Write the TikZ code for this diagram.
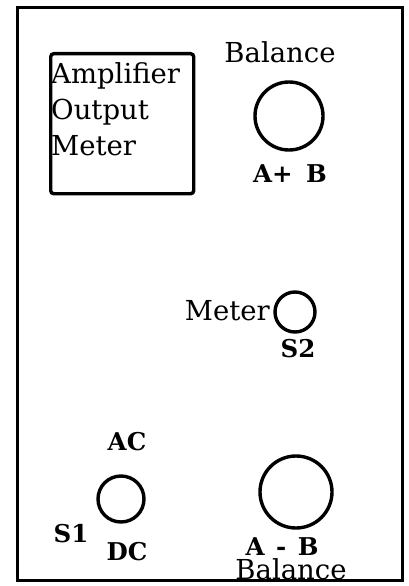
\documentclass[tikz,border=0pt]{standalone}
\usepackage{fontspec}
\setmainfont{DejaVu Serif}
\usetikzlibrary{positioning}
\tikzset{
  panel/.style={draw, line width=3pt},
  meterbox/.style={rectangle, draw, line width=3.4pt, rounded corners=3pt,
    minimum width=143pt, minimum height=140pt, anchor=north west, inner sep=0pt},
  knob/.style={circle, draw, line width=3.4pt, inner sep=0pt},
  lbl/.style={font=\fontsize{27.5}{36}\selectfont, inner sep=0pt, anchor=base},
  blbl/.style={lbl, font=\fontsize{24.5}{36}\selectfont\bfseries},
}

\begin{document}
\begin{tikzpicture}[x=1pt, y=-1pt]
  \useasboundingbox (0,0) rectangle (408,586);
  % front panel
  \draw[panel] (17,8) rectangle (402,580);

  % output meter
  \node[meterbox] (ampbox) at (49,52) {};
  \node[lbl, anchor=base west, align=left] (amptext) at (51,155) {Amplifier\\Output\\Meter};

  % balance A+B
  \node[knob, minimum size=68pt] (balab) at (289,116) {};
  \node[lbl] (baltop) at (280,63) {Balance};
  \node[blbl] (apb) at (290,182) {A+\kern5pt\ B};

  % meter switch
  \node[knob, minimum size=40pt] (stwo) at (295,312) {};
  \node[lbl, anchor=base east] (meterlbl) at (270,320) {Meter};
  \node[blbl] (stwolbl) at (298,357) {S2};

  % ac/dc switch
  \node[knob, minimum size=46pt] (sone) at (121,499) {};
  \node[blbl] (aclbl) at (127,450) {AC};
  \node[blbl] (sonelbl) at (71,542) {S1};
  \node[blbl] (dclbl) at (127,560) {DC};

  % balance A-B
  \node[knob, minimum size=72pt] (balamb) at (296,492) {};
  \node[blbl] (amb) at (282,555) {A\kern3pt\ -\kern3pt\ B};
  \node[lbl] (balbot) at (291,579) {Balance};
\end{tikzpicture}
\end{document}
